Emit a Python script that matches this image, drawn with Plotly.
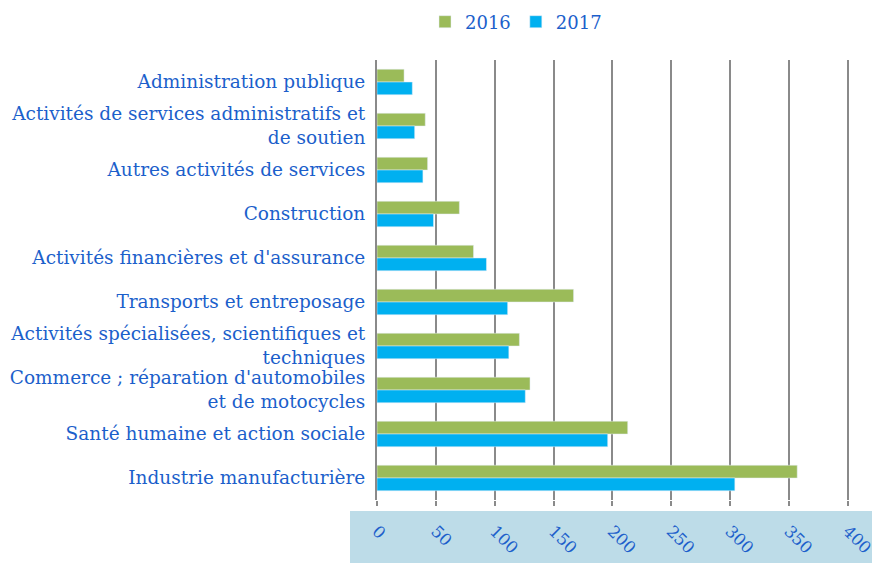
import plotly.graph_objects as go

categories = [
    "Administration publique",
    "Activités de services administratifs et<br>de soutien",
    "Autres activités de services",
    "Construction",
    "Activités financières et d'assurance",
    "Transports et entreposage",
    "Activités spécialisées, scientifiques et<br>techniques",
    "Commerce ; réparation d'automobiles<br>et de motocycles",
    "Santé humaine et action sociale",
    "Industrie manufacturière",
]
values_2016 = [23, 41, 43, 70, 82, 167, 121, 130, 213, 357]
values_2017 = [30, 32, 39, 48, 93, 111, 112, 126, 196, 304]
x_ticks = [0, 50, 100, 150, 200, 250, 300, 350, 400]

TEXT = "#1C5FCB"
GRID = "#8a8a8a"
FONT = "DejaVu Serif"

fig = go.Figure()
fig.add_trace(go.Bar(y=categories, x=values_2016, name="2016", orientation="h",
                     marker=dict(color="#9BBB59")))
fig.add_trace(go.Bar(y=categories, x=values_2017, name="2017", orientation="h",
                     marker=dict(color="#00B0F0")))

OFF = 8  # page body margin
W, H = 880 - OFF, 563 - OFF
L = 377 - OFF
T = 60 - OFF
R = 880 - 849
B = 563 - 500
pw = W - L - R
ph = H - T - B
plot_bottom = T + ph  # in figure px

fig.update_layout(
    width=W, height=H,
    margin=dict(l=L, r=R, t=T, b=B, pad=0, autoexpand=False),
    barmode="group", bargap=0.42, bargroupgap=0,
    plot_bgcolor="white", paper_bgcolor="white",
    font=dict(family=FONT, color=TEXT, size=16),
    legend=dict(orientation="h", x=(516 - OFF - L) / pw, xanchor="center",
                y=1 + (T - (22 - OFF)) / ph, yanchor="middle",
                font=dict(size=18, color=TEXT, family=FONT),
                itemwidth=30, traceorder="normal"),
    xaxis=dict(range=[0, 401], tickvals=x_ticks, ticktext=[str(v) for v in x_ticks],
               showgrid=True, gridcolor=GRID, gridwidth=2,
               ticks="outside", ticklen=5, tickcolor=GRID, tickwidth=2,
               tickangle=45, ticklabelstandoff=9, automargin=False,
               tickfont=dict(size=16.5, color=TEXT, family=FONT),
               zeroline=False, showline=False),
    yaxis=dict(autorange="reversed", showline=True, linecolor=GRID, linewidth=2,
               ticks="", ticklabelstandoff=6, automargin=False,
               tickfont=dict(size=18.5, color=TEXT, family=FONT)),
    shapes=[dict(type="rect", xref="paper", yref="paper", layer="below",
                 x0=(350 - OFF - L) / pw, x1=(W + 10 - L) / pw,
                 y0=-(H + 10 - plot_bottom) / ph, y1=-(511 - OFF - plot_bottom) / ph,
                 fillcolor="#BDDCE8", line=dict(width=0))],
)

fig.write_html("out.html")
